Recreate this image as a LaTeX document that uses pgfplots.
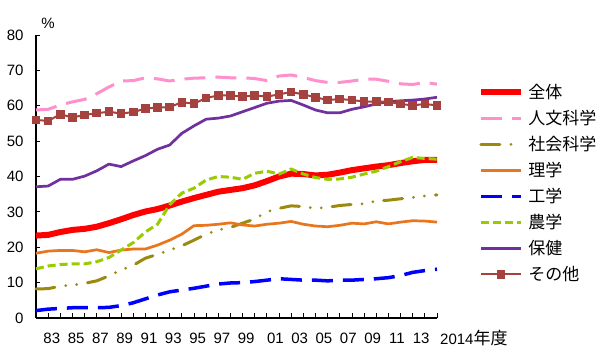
\documentclass[border=0pt]{standalone}
\usepackage{fontspec}
\setmainfont{Liberation Sans}
\newfontfamily\jp{Noto Sans CJK JP}
\usepackage{pgfplots}
\usepackage{pgfplotstable}
\pgfplotsset{compat=1.18}
\definecolor{cTotal}{HTML}{FF0000}
\definecolor{cHum}{HTML}{FF90CC}
\definecolor{cSoc}{HTML}{9C8A10}
\definecolor{cSci}{HTML}{E8761E}
\definecolor{cEng}{HTML}{0000FF}
\definecolor{cAgr}{HTML}{99CC00}
\definecolor{cHea}{HTML}{7030A0}
\definecolor{cOth}{HTML}{A5423F}
\pgfplotstableread{
year total hum soc sci eng agr hea oth
1981 23.3 58.8 8.2 18.3 2.1 13.9 37.1 56.0
1982 23.5 59.0 8.3 18.9 2.5 14.7 37.3 55.7
1983 24.3 60.2 9.0 19.1 2.7 15.1 39.2 57.6
1984 24.9 61.1 9.3 19.1 2.9 15.3 39.2 56.7
1985 25.2 61.8 9.8 18.7 2.9 15.3 40.1 57.4
1986 25.8 63.4 10.5 19.3 2.9 15.9 41.6 57.9
1987 26.8 65.3 11.9 18.5 3.0 17.1 43.5 58.3
1988 27.9 67.0 13.6 19.2 3.5 19.2 42.8 57.8
1989 29.1 67.1 14.9 19.5 4.3 21.3 44.4 58.2
1990 30.1 67.9 16.9 19.5 5.4 24.3 45.9 59.2
1991 30.8 67.6 18.0 20.6 6.5 26.5 47.7 59.5
1992 31.8 67.0 19.2 22.0 7.4 32.0 48.9 59.6
1993 32.9 67.5 20.4 23.7 7.9 35.3 52.2 61.0
1994 33.9 67.8 22.0 26.1 8.4 36.7 54.3 60.6
1995 34.8 67.9 23.7 26.2 9.0 39.0 56.2 62.2
1996 35.7 68.1 24.9 26.5 9.6 40.0 56.5 62.9
1997 36.2 67.9 25.6 26.9 9.9 39.8 57.1 62.9
1998 36.7 67.9 26.8 26.3 10.0 39.2 58.3 62.6
1999 37.5 67.7 28.0 26.0 10.3 40.9 59.5 62.9
2000 38.7 67.1 30.0 26.5 10.7 41.5 60.7 62.6
2001 40.0 68.4 31.0 26.8 11.1 40.7 61.3 63.2
2002 40.8 68.7 31.7 27.3 10.9 42.1 61.5 63.9
2003 40.7 68.0 31.5 26.5 10.7 40.7 60.2 63.2
2004 40.3 67.1 31.0 26.0 10.7 39.7 58.8 62.4
2005 40.5 66.6 31.3 25.8 10.5 39.2 58.0 61.6
2006 41.1 66.6 31.8 26.2 10.7 39.3 58.0 61.9
2007 41.8 67.0 32.1 26.8 10.7 39.8 59.0 61.6
2008 42.3 67.5 32.3 26.6 10.9 40.7 59.7 61.2
2009 42.8 67.5 33.1 27.2 11.1 41.5 60.5 61.2
2010 43.2 66.9 33.3 26.6 11.4 42.8 61.2 61.1
2011 43.8 66.2 33.7 27.1 12.0 44.2 61.4 60.5
2012 44.3 66.0 34.1 27.5 12.9 45.4 61.6 60.1
2013 44.7 66.6 34.5 27.4 13.4 45.1 61.9 60.5
2014 44.7 66.1 34.8 27.1 13.8 44.9 62.4 60.1
}\datatable
\begin{document}
\begin{tikzpicture}
\path[use as bounding box, fill=white] (0,0) rectangle (600bp,358bp);
\begin{axis}[
  at={(36bp,40bp)}, anchor=south west,
  scale only axis, width=401bp, height=283bp,
  xmin=1981, xmax=2014, ymin=0, ymax=80,
  clip=false,
  axis x line*=bottom, axis y line*=left,
  axis line style={black, line width=1.3bp, -},
  tick align=inside,
  major tick length=4.5bp,
  tick style={black, line width=0.8bp},
  xtick={1981,...,2014}, xticklabels={},
  extra x ticks={1982.3,1984.3,1986.3,1988.3,1990.3,1992.3,1994.3,1996.3,1998.3,2000.7,2002.7,2004.7,2006.7,2008.7,2010.7,2012.7},
  extra x tick labels={83,85,87,89,91,93,95,97,99,01,03,05,07,09,11,13},
  extra x tick style={major tick length=0pt, tick style={draw=none}},
  ytick={0,10,...,80},
  /pgf/number format/assume math mode=true,
  tick label style={font=\fontsize{15bp}{15bp}\selectfont},
  xticklabel style={yshift=-12bp},
  yticklabel style={xshift=-9bp},
  legend style={at={(rel axis cs:1.1022,0.4758)}, anchor=west, draw=none, fill=none,
    inner sep=0pt, outer sep=0pt, row sep=10bp, column sep=4.5bp,
    font=\jp\fontsize{17bp}{17bp}\selectfont,
    nodes={inner sep=0pt, text height=14bp, text depth=2bp}},
  legend cell align=left,
  legend image code/.code={\draw[mark repeat=2,mark phase=2,#1] plot coordinates {(0bp,0bp) (20bp,0bp) (40bp,0bp)};},
]
\addplot[cTotal, line width=6bp, line join=round] table[x=year,y=total]{\datatable};
\addlegendentry{全体}
\addplot[cHum, line width=3bp, dash pattern=on 21bp off 10bp] table[x=year,y=hum]{\datatable};
\addlegendentry{人文科学}
\addplot[cSoc, line width=3bp, line cap=round, dash pattern=on 19bp off 11bp on 0bp off 11bp on 0bp off 11bp] table[x=year,y=soc]{\datatable};
\addlegendentry{社会科学}
\addplot[cSci, line width=2.7bp, line join=round] table[x=year,y=sci]{\datatable};
\addlegendentry{理学}
\addplot[cEng, line width=3.5bp, dash pattern=on 21bp off 10bp] table[x=year,y=eng]{\datatable};
\addlegendentry{工学}
\addplot[cAgr, line width=3bp, dash pattern=on 8bp off 4bp] table[x=year,y=agr]{\datatable};
\addlegendentry{農学}
\addplot[cHea, line width=2.7bp, line join=round] table[x=year,y=hea]{\datatable};
\addlegendentry{保健}
\addplot[cOth, line width=2bp, mark=square*, mark size=3.3bp, mark options={solid, fill=cOth}] table[x=year,y=oth]{\datatable};
\addlegendentry{その他}
\node[anchor=center, font=\fontsize{15bp}{15bp}\selectfont] at (rel axis cs:0.03,1) [yshift=12bp] {\%};
\node[anchor=west, font=\fontsize{15bp}{15bp}\selectfont, inner sep=0pt] at (rel axis cs:1.0075,0) [yshift=-20bp] {2014{\jp\fontsize{17bp}{17bp}\selectfont 年度}};
\end{axis}
\end{tikzpicture}
\end{document}
